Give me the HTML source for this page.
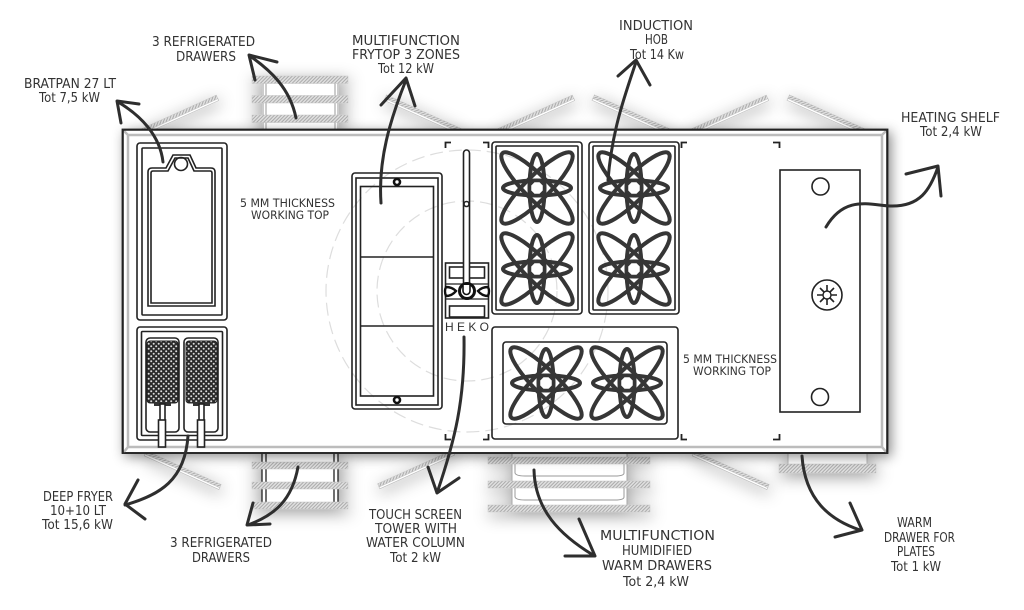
<!DOCTYPE html>
<html><head><meta charset="utf-8"><style>
html,body{margin:0;padding:0;background:#fff}
svg{display:block}
text{font-family:"DejaVu Sans","Liberation Sans",sans-serif;font-size:13px;fill:#333}
.s{font-size:11.500px}
.b{fill:none;stroke:#222;stroke-width:1.6}
.w{fill:#fff;stroke:#222;stroke-width:1.6}
.a{fill:none;stroke:#2e2e2e;stroke-width:3;stroke-linecap:round;stroke-linejoin:round}
.h{fill:url(#hatch);stroke:#c4c4c4;stroke-width:.5}
</style></head><body>
<svg width="1024" height="610" viewBox="0 0 1024 610" xmlns="http://www.w3.org/2000/svg">
<defs>
<pattern id="hatch" width="2.500" height="2.500" patternUnits="userSpaceOnUse" patternTransform="rotate(45)"><rect width="2.500" height="2.500" fill="#e0e0e0"/><rect width="1" height="2.500" fill="#ababab"/></pattern>
<pattern id="mesh" width="5" height="5" patternUnits="userSpaceOnUse"><rect width="5" height="5" fill="#2a2a2a"/><circle cx="1.200" cy="1.200" r="1" fill="#ddd"/><circle cx="3.700" cy="3.700" r="1" fill="#ddd"/></pattern>
<filter id="sh" x="-40%" y="-120%" width="180%" height="340%"><feDropShadow dx="1" dy="4" stdDeviation="8" flood-color="#000" flood-opacity=".38"/></filter>
<filter id="sh2" x="-10%" y="-20%" width="120%" height="140%"><feDropShadow dx="3" dy="3" stdDeviation="6" flood-color="#000" flood-opacity=".45"/></filter>
<g id="atom" fill="none" stroke="#363636" stroke-width="4">
<ellipse rx="34" ry="7.500"/><ellipse rx="7.500" ry="34"/>
<ellipse rx="49" ry="12" transform="rotate(45)"/><ellipse rx="49" ry="12" transform="rotate(-45)"/>
<polygon points="-7,-3 -3,-7 3,-7 7,-3 7,3 3,7 -3,7 -7,3" fill="#fff" stroke="#363636" stroke-width="2.500"/>
</g>
<g id="slat"><rect y="0" width="82" height="2.500" fill="#fff" stroke="#bbb" stroke-width=".6"/><rect class="h" y="-3.500" width="82" height="4"/></g>
<g id="slatd"><rect y="-.5" width="82" height="2.500" fill="#fff" stroke="#bbb" stroke-width=".6"/><rect class="h" y="-3.500" width="82" height="3.500"/></g>
</defs>

<!-- slats -->
<g filter="url(#sh)"><use href="#slat" transform="translate(143,132) rotate(-24.300)"/></g>
<g filter="url(#sh)"><use href="#slat" transform="translate(385,98) rotate(24.300)"/></g>
<g filter="url(#sh)"><use href="#slat" transform="translate(499,132) rotate(-24.300)"/></g>
<g filter="url(#sh)"><use href="#slat" transform="translate(593,98) rotate(24.300)"/></g>
<g filter="url(#sh)"><use href="#slat" transform="translate(693,132) rotate(-24.300)"/></g>
<g filter="url(#sh)"><use href="#slat" transform="translate(788,98) rotate(24.300)"/></g>
<g filter="url(#sh)"><use href="#slatd" transform="translate(145,454) rotate(24.300)"/></g>
<g filter="url(#sh)"><use href="#slatd" transform="translate(379,487) rotate(-24.300)"/></g>
<g filter="url(#sh)"><use href="#slatd" transform="translate(693,454) rotate(24.300)"/></g>

<g filter="url(#sh)">
<rect x="262" y="76" width="77" height="54" fill="#fff"/>
<path d="M263 76V130M266 76V130M335 76V130M338 76V130" stroke="#999" stroke-width="1" fill="none"/>
<rect class="h" x="252" y="76" width="96" height="7.500"/><rect class="h" x="252" y="95.500" width="96" height="7.500"/><rect class="h" x="252" y="115" width="96" height="7.500"/>
</g>
<g filter="url(#sh)">
<rect x="262" y="453" width="76" height="50" fill="#fff"/>
<path d="M262 453V503M266 453V503M334 453V503M338 453V503" stroke="#222" stroke-width="1.300" fill="none"/>
<rect class="h" x="252" y="462" width="96" height="7"/><rect class="h" x="252" y="482" width="96" height="7"/><rect class="h" x="252" y="502" width="96" height="7"/>
</g>
<g filter="url(#sh)">
<rect x="512" y="453" width="115" height="53" fill="#fff" stroke="#aaa"/>
<path d="M515 464V473Q516 476 525 476H615Q624 476 624 473V464M515 487V497Q516 500 525 500H615Q624 500 624 497V487" fill="none" stroke="#999"/>
<rect class="h" x="488" y="457" width="162" height="7"/><rect class="h" x="488" y="481" width="162" height="7"/><rect class="h" x="488" y="505" width="162" height="7"/>
</g>
<g filter="url(#sh)">
<rect x="788" y="453" width="79" height="12" fill="#fff" stroke="#bbb"/>
<rect class="h" x="779" y="464" width="97" height="9"/>
</g>

<!-- table -->
<rect x="122.500" y="129.500" width="765" height="323.500" fill="#fff" stroke="#222" stroke-width="1.800" filter="url(#sh2)"/>
<path d="M123 130L128 135H882L887 130M123 453L128 447H882L887 453M128 135V447M882 135V447" fill="none" stroke="#bcbcbc" stroke-width="2.500"/>
<path d="M123 130H887V453H123Z" fill="none" stroke="#222" stroke-width="1.600"/>

<!-- dashed circles -->
<g fill="none" stroke="#ddd" stroke-width="1.200" stroke-dasharray="13 6"><circle cx="467" cy="291" r="141"/><circle cx="467" cy="291" r="90"/></g>

<!-- bratpan -->
<rect class="b" x="137" y="143" width="90" height="177" rx="3"/>
<rect class="b" x="142" y="148" width="80" height="167" rx="1"/>
<path class="b" d="M148 306V172Q148 168 152 168H166L173 155H190L196 168H211Q215 168 215 172V306Z"/>
<path class="b" d="M151 303V173Q151 171 153 171H168L175 158H188L194 171H210Q212 171 212 173V303Z"/>
<circle class="b" cx="181" cy="164" r="6.500"/>

<!-- fryer -->
<rect class="b" x="137" y="327" width="90" height="113" rx="3"/>
<rect class="b" x="141.500" y="331.500" width="81" height="104" rx="1"/>
<rect class="b" x="146" y="338" width="33" height="94" rx="4"/>
<rect class="b" x="184" y="338" width="34" height="94" rx="4"/>
<rect x="147" y="341" width="31" height="62" rx="3" fill="url(#mesh)" stroke="#222"/>
<rect x="186" y="341" width="31" height="62" rx="3" fill="url(#mesh)" stroke="#222"/>
<rect x="154" y="402" width="17" height="4" fill="#333"/><rect x="193" y="402" width="17" height="4" fill="#333"/>
<rect class="w" x="160" y="404" width="5" height="17"/><rect class="w" x="199" y="404" width="5" height="17"/>
<rect class="w" x="158.500" y="420" width="7" height="27"/><rect class="w" x="197.500" y="420" width="7" height="27"/>

<!-- frytop -->
<rect class="b" x="352" y="173" width="90" height="236" rx="3"/>
<rect class="b" x="356" y="178" width="82" height="227"/>
<rect class="b" x="360.500" y="186.500" width="73" height="209.500" stroke-width="2"/>
<path class="b" d="M360 257H434M360 326H434"/>
<circle cx="397" cy="182" r="3" fill="#fff" stroke="#111" stroke-width="2.600"/>
<circle cx="397" cy="400" r="3" fill="#fff" stroke="#111" stroke-width="2.600"/>

<!-- tower -->
<rect class="w" x="445.500" y="263" width="43" height="55"/>
<rect class="b" x="449.500" y="267" width="35" height="11"/>
<rect class="b" x="449.500" y="306" width="35" height="11"/>
<path d="M445 284H489M445 299H489" stroke="#222" stroke-width="1.200"/>
<g fill="#fff" stroke="#111" stroke-width="2.400"><path d="M446 287Q452 287 456 291Q452 296 446 296Q444 291 446 287Z"/><path d="M488 287Q482 287 478 291Q482 296 488 296Q490 291 488 287Z"/></g>
<rect class="w" x="463.500" y="150" width="6" height="138" rx="3"/>
<circle cx="467" cy="291" r="7.500" fill="#fff" stroke="#111" stroke-width="3"/>
<path d="M463 285V291A3.500 3.500 0 0 0 470 291V285" fill="#fff" stroke="#111" stroke-width="1.600"/>
<circle class="w" cx="466.500" cy="204" r="2.500"/>
<text x="445" y="331" textLength="44" style="font-size:12px;font-family:'Liberation Sans',sans-serif">HEKO</text>

<!-- brackets -->
<path d="M445.500 148V142.500H451M483 142.500H488.500V148M445.500 434V439.500H451M483 439.500H488.500V434M681.500 148V142.500H687M773 142.500H779.500V148M681.500 434V439.500H687M773 439.500H779.500V434" fill="none" stroke="#222" stroke-width="1.800"/>

<!-- induction -->
<rect class="b" x="492" y="142" width="90" height="172" rx="3"/><rect class="b" x="496" y="146" width="82" height="164" rx="1"/>
<rect class="b" x="589" y="142" width="90" height="172" rx="3"/><rect class="b" x="593" y="146" width="82" height="164" rx="1"/>
<use href="#atom" x="537" y="188"/><use href="#atom" x="537" y="269"/>
<use href="#atom" x="634" y="188"/><use href="#atom" x="634" y="269"/>
<rect class="b" x="492" y="327" width="186" height="112" rx="3"/>
<rect class="b" x="503" y="342" width="164" height="82" rx="3"/>
<use href="#atom" x="546" y="383"/><use href="#atom" x="627" y="383"/>

<!-- heating shelf -->
<rect class="b" x="780" y="170" width="80" height="242" stroke-width="1.800"/>
<circle class="b" cx="820.500" cy="186.500" r="8.500"/>
<circle class="b" cx="820" cy="397" r="8.500"/>
<circle class="b" cx="827" cy="295" r="15" stroke-width="2"/>
<path d="M827 285V305M817 295H837M820 288L834 302M834 288L820 302" stroke="#222" stroke-width="1.600" fill="none"/>
<circle cx="827" cy="295" r="4" fill="#fff" stroke="#222" stroke-width="1.400"/>

<!-- arrows -->
<path class="a" d="M163 162C160 135 140 115 118 102M121 123L117 101L139 104"/>
<path class="a" d="M296 118C290 88 270 70 250 56M255 80L249 55L277 62"/>
<path class="a" d="M381 203C378 160 390 120 406 80M381 105L406 78L415 106"/>
<path class="a" d="M608 180C612 130 625 95 636 62M618 76L636 60L650 85"/>
<path class="a" d="M826 227C845 195 870 205 890 206C920 207 930 190 938 167M906 174L938 166L941 196"/>
<path class="a" d="M188 436C185 480 160 495 125 505M138 480L125 504L145 519"/>
<path class="a" d="M298 467C292 500 275 515 248 525M253 503L247 525L270 524"/>
<path class="a" d="M464 337C465 400 455 440 437 493M428 467L437 493L459 478"/>
<path class="a" d="M534 470C535 510 560 535 593 555M579 519L595 556L565 556"/>
<path class="a" d="M802 456C805 500 830 520 860 530M850 503L862 530L835 537"/>

<!-- labels -->
<text lengthAdjust="spacingAndGlyphs" x="24" y="88" textLength="92">BRATPAN 27 LT</text><text lengthAdjust="spacingAndGlyphs" x="39" y="102" textLength="61">Tot 7,5 kW</text>
<text lengthAdjust="spacingAndGlyphs" x="152" y="46" textLength="103">3 REFRIGERATED</text><text lengthAdjust="spacingAndGlyphs" x="176" y="61" textLength="60">DRAWERS</text>
<text lengthAdjust="spacingAndGlyphs" x="352" y="45" textLength="108">MULTIFUNCTION</text><text lengthAdjust="spacingAndGlyphs" x="352" y="59" textLength="108">FRYTOP 3 ZONES</text><text lengthAdjust="spacingAndGlyphs" x="378" y="73" textLength="56">Tot 12 kW</text>
<text lengthAdjust="spacingAndGlyphs" x="619" y="30" textLength="74">INDUCTION</text><text lengthAdjust="spacingAndGlyphs" x="645" y="44" textLength="23">HOB</text><text lengthAdjust="spacingAndGlyphs" x="630" y="59" textLength="54">Tot 14 Kw</text>
<text lengthAdjust="spacingAndGlyphs" x="901" y="122" textLength="99">HEATING SHELF</text><text lengthAdjust="spacingAndGlyphs" x="920" y="136" textLength="62">Tot 2,4 kW</text>
<text class="s" lengthAdjust="spacingAndGlyphs" x="240" y="207" textLength="95">5 MM THICKNESS</text><text class="s" lengthAdjust="spacingAndGlyphs" x="251" y="219" textLength="78">WORKING TOP</text>
<text class="s" lengthAdjust="spacingAndGlyphs" x="683" y="363" textLength="94">5 MM THICKNESS</text><text class="s" lengthAdjust="spacingAndGlyphs" x="693" y="375" textLength="78">WORKING TOP</text>
<text lengthAdjust="spacingAndGlyphs" x="43" y="501" textLength="70">DEEP FRYER</text><text lengthAdjust="spacingAndGlyphs" x="50" y="515" textLength="56">10+10 LT</text><text lengthAdjust="spacingAndGlyphs" x="42" y="529" textLength="71">Tot 15,6 kW</text>
<text lengthAdjust="spacingAndGlyphs" x="170" y="547" textLength="102">3 REFRIGERATED</text><text lengthAdjust="spacingAndGlyphs" x="192" y="562" textLength="58">DRAWERS</text>
<text lengthAdjust="spacingAndGlyphs" x="369" y="519" textLength="93">TOUCH SCREEN</text><text lengthAdjust="spacingAndGlyphs" x="375" y="533" textLength="82">TOWER WITH</text><text lengthAdjust="spacingAndGlyphs" x="366" y="547" textLength="99">WATER COLUMN</text><text lengthAdjust="spacingAndGlyphs" x="390" y="562" textLength="51">Tot 2 kW</text>
<text lengthAdjust="spacingAndGlyphs" x="600" y="540" textLength="115">MULTIFUNCTION</text><text lengthAdjust="spacingAndGlyphs" x="622" y="555" textLength="70">HUMIDIFIED</text><text lengthAdjust="spacingAndGlyphs" x="602" y="570" textLength="110">WARM DRAWERS</text><text lengthAdjust="spacingAndGlyphs" x="623" y="586" textLength="66">Tot 2,4 kW</text>
<text lengthAdjust="spacingAndGlyphs" x="897" y="527" textLength="35">WARM</text><text lengthAdjust="spacingAndGlyphs" x="884" y="542" textLength="71">DRAWER FOR</text><text lengthAdjust="spacingAndGlyphs" x="897" y="556" textLength="38">PLATES</text><text lengthAdjust="spacingAndGlyphs" x="891" y="571" textLength="50">Tot 1 kW</text>
</svg>
</body></html>
